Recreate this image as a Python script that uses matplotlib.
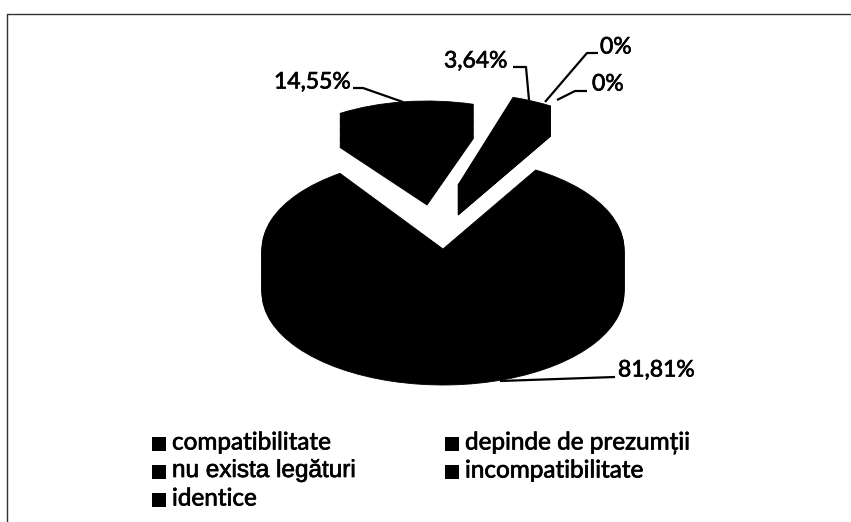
import matplotlib
matplotlib.use("Agg")
import matplotlib.pyplot as plt
import matplotlib.patheffects as pe
from matplotlib.transforms import Affine2D

categories = ["compatibilitate", "nu exista legături", "identice", "depinde de prezumții", "incompatibilitate"]
values = [81.81, 14.55, 3.64, 0, 0]
value_labels = ["81,81%", "14,55%", "3,64%", "0%", "0%"]

W, H = 851, 522
fig = plt.figure(figsize=(W / 100, H / 100), dpi=100, facecolor="white")
ax = fig.add_axes([0, 0, 1, 1])

# placement of each exploded slice in pixels: centre x, centre y, radius x, radius y, depth
slice_geom = [
    (443, 249, 181, 92, 44),
    (427, 171, 153, 70, 34),
    (458, 185, 181, 92, 30),
    (458, 185, 181, 92, 30),
    (458, 185, 181, 92, 30),
]

for frac in [i / 30 for i in range(31)]:
    wedges, _ = ax.pie(values, startangle=59.2, counterclock=False,
                       colors=["black"] * 5, wedgeprops=dict(linewidth=0.6, edgecolor="black"))
    for w, (cx, cy, a, b, d) in zip(wedges, slice_geom):
        w.set_transform(Affine2D().scale(a, -b).translate(cx, cy + d * frac) + ax.transData)

ax.set_aspect("auto")
ax.set_xlim(0, W)
ax.set_ylim(H, 0)
ax.axis("off")

# frame
ax.plot([7, 7, W], [H, 14, 14], color="#333333", lw=1.0, clip_on=False)

# value labels with leaders
heavier = [pe.withStroke(linewidth=0.5, foreground="black")]
lab_font = dict(family="Lato", fontsize=16.5, color="black", va="center", path_effects=heavier)
leaders = [
    ([500, 615], [381, 377], 618, 370, 0),
    ([353, 363, 403], [88, 88, 102], 274, 82, 1),
    ([513, 526, 529], [67, 67, 100], 444, 61, 2),
    ([545, 587, 598], [102, 53, 53], 600, 47, 3),
    ([557, 575, 587], [100, 91, 91], 592, 84, 4),
]
for px, py, tx, ty, idx in leaders:
    ax.plot(px, py, color="black", lw=1.6, solid_capstyle="butt")
    ax.text(tx, ty, value_labels[idx], ha="left", **lab_font)

# legend
leg_pos = [(152, 444), (152, 472), (152, 500), (445, 444), (445, 472)]
for name, (x, y) in zip(categories, leg_pos):
    ax.plot([x + 6.5], [y], marker="s", ms=10, color="black", mew=0)
    is_nu = name.startswith("nu")
    ax.text(x + 20, y - 1, name, family="Liberation Sans" if is_nu else "Lato",
            fontsize=17.5, va="center", ha="left", color="black", path_effects=heavier)

fig.savefig("out.png", dpi=100, facecolor="white")
